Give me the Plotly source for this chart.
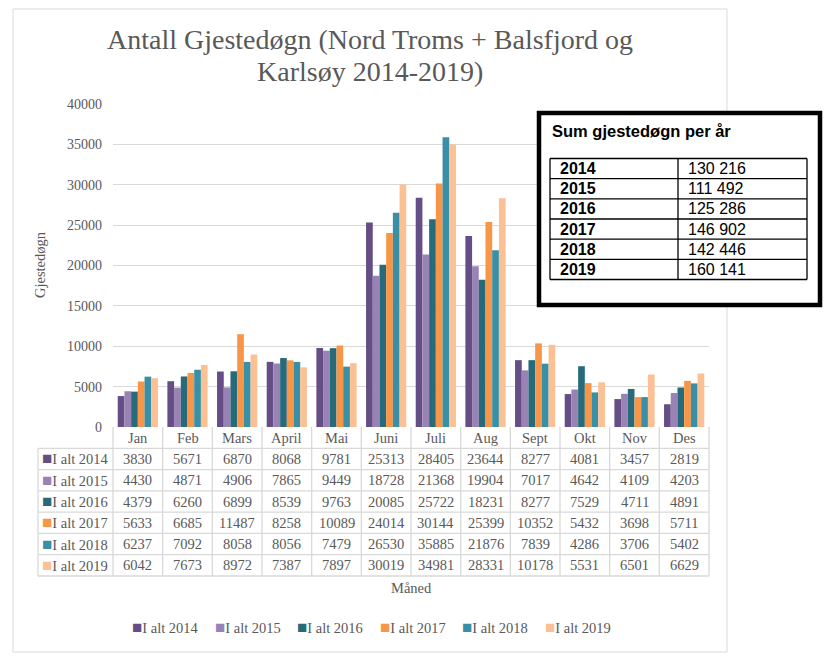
import plotly.graph_objects as go

months = ["Jan", "Feb", "Mars", "April", "Mai", "Juni", "Juli", "Aug", "Sept", "Okt", "Nov", "Des"]
series_names = ["I alt 2014", "I alt 2015", "I alt 2016", "I alt 2017", "I alt 2018", "I alt 2019"]
v2014 = [3830, 5671, 6870, 8068, 9781, 25313, 28405, 23644, 8277, 4081, 3457, 2819]
v2015 = [4430, 4871, 4906, 7865, 9449, 18728, 21368, 19904, 7017, 4642, 4109, 4203]
v2016 = [4379, 6260, 6899, 8539, 9763, 20085, 25722, 18231, 8277, 7529, 4711, 4891]
v2017 = [5633, 6685, 11487, 8258, 10089, 24014, 30144, 25399, 10352, 5432, 3698, 5711]
v2018 = [6237, 7092, 8058, 8056, 7479, 26530, 35885, 21876, 7839, 4286, 3706, 5402]
v2019 = [6042, 7673, 8972, 7387, 7897, 30019, 34981, 28331, 10178, 5531, 6501, 6629]
series_values = [v2014, v2015, v2016, v2017, v2018, v2019]
colors = ["#644E85", "#9983B5", "#276B7A", "#F79646", "#388FA6", "#FBC093"]

sum_years = ["2014", "2015", "2016", "2017", "2018", "2019"]
sum_values = ["130 216", "111 492", "125 286", "146 902", "142 446", "160 141"]
y_ticks = [0, 5000, 10000, 15000, 20000, 25000, 30000, 35000, 40000]

# page offset (browser body margin) and geometry in reference pixels
OFF = 8
L, R, T, B = 113, 709, 104, 427
SERIF = "Liberation Serif"
SANS = "Liberation Sans"
GRAY = "#595959"
GRID = "#D9D9D9"


def px(p):
    return (p - L) / (R - L)


def py(p):
    return (B - p) / (B - T)


def swatch(col, name):
    return '<span style="color:%s;font-size:17px">■</span>%s' % (col, name)


fig = go.Figure()
for name, vals, col in zip(series_names, series_values, colors):
    fig.add_trace(go.Bar(x=months, y=vals, name=name, showlegend=False,
                         marker=dict(color=col, line=dict(width=0))))

shapes = []
annotations = []

# outer chart frame
shapes.append(dict(type="rect", xref="paper", yref="paper", x0=px(13), x1=px(727), y0=py(9), y1=py(652),
                   line=dict(color=GRID, width=1), layer="below"))

# data table
row_h = (576 - 427) / 7
col_w = (R - L) / 12
for i in range(1, 8):
    yl = 427 + i * row_h
    shapes.append(dict(type="line", xref="paper", yref="paper", x0=px(38), x1=px(R), y0=py(yl), y1=py(yl),
                       line=dict(color=GRID, width=1.3)))
for j in range(13):
    xl = L + j * col_w
    shapes.append(dict(type="line", xref="paper", yref="paper", x0=px(xl), x1=px(xl), y0=py(427), y1=py(576),
                       line=dict(color=GRID, width=1.3)))
shapes.append(dict(type="line", xref="paper", yref="paper", x0=px(38), x1=px(38), y0=py(427 + row_h), y1=py(576),
                   line=dict(color=GRID, width=1.3)))

TFONT = dict(family=SERIF, size=14.5, color=GRAY)
for j, m in enumerate(months):
    annotations.append(dict(x=m, xref="x", y=py(427 + row_h / 2), yref="paper", text=m, showarrow=False,
                            font=TFONT, xanchor="center", yanchor="middle"))
for i, (name, vals, col) in enumerate(zip(series_names, series_values, colors)):
    yc = py(427 + (i + 1.5) * row_h)
    annotations.append(dict(x=px(40), xref="paper", y=yc, yref="paper",
                            text=swatch(col, name), showarrow=False,
                            font=TFONT, xanchor="left", yanchor="middle"))
    for m, v in zip(months, vals):
        annotations.append(dict(x=m, xref="x", y=yc, yref="paper", text=str(v), showarrow=False,
                                font=TFONT, xanchor="center", yanchor="middle"))

# legend (bottom)
for i, (name, col) in enumerate(zip(series_names, colors)):
    annotations.append(dict(x=px(130 + i * 82.6), xref="paper", y=py(627), yref="paper",
                            text=swatch(col, name), showarrow=False,
                            font=TFONT, xanchor="left", yanchor="middle"))

# axis titles
annotations.append(dict(x=px(411), xref="paper", y=py(588), yref="paper", text="Måned", showarrow=False,
                        font=dict(family=SERIF, size=14.5, color=GRAY), xanchor="center", yanchor="middle"))
annotations.append(dict(x=px(40), xref="paper", y=py(265), yref="paper", text="Gjestedøgn", showarrow=False,
                        textangle=-90, font=dict(family=SERIF, size=14.5, color=GRAY),
                        xanchor="center", yanchor="middle"))

# title (two lines)
title_lines = ["Antall Gjestedøgn (Nord Troms + Balsfjord og", "Karlsøy 2014-2019)"]
for k, line in enumerate(title_lines):
    annotations.append(dict(x=px(370), xref="paper", y=py(40 + 32 * k), yref="paper", text=line,
                            showarrow=False, font=dict(family=SERIF, size=28, color=GRAY),
                            xanchor="center", yanchor="middle"))

# summary box
shapes.append(dict(type="rect", xref="paper", yref="paper", x0=px(539), x1=px(820), y0=py(113), y1=py(305),
                   line=dict(color="black", width=4.5), fillcolor="white", layer="above"))
annotations.append(dict(x=px(550), xref="paper", y=py(131), yref="paper", text="<b>Sum gjestedøgn per år</b>",
                        showarrow=False, font=dict(family=SANS, size=16.5, color="black"),
                        xanchor="left", yanchor="middle"))
bt, bb = 158.5, 279.5
brow = (bb - bt) / 6
for i in range(7):
    yl = bt + i * brow
    shapes.append(dict(type="line", xref="paper", yref="paper", x0=px(550), x1=px(807), y0=py(yl), y1=py(yl),
                       line=dict(color="black", width=1.3), layer="above"))
for xl in (550, 678, 807):
    shapes.append(dict(type="line", xref="paper", yref="paper", x0=px(xl), x1=px(xl), y0=py(bt), y1=py(bb),
                       line=dict(color="black", width=1.3), layer="above"))
for i, (yr, sv) in enumerate(zip(sum_years, sum_values)):
    yc = py(bt + (i + 0.5) * brow)
    annotations.append(dict(x=px(558), xref="paper", y=yc, yref="paper", text="<b>%s</b>" % yr, showarrow=False,
                            font=dict(family=SANS, size=16, color="black"), xanchor="left", yanchor="middle"))
    annotations.append(dict(x=px(686), xref="paper", y=yc, yref="paper", text=sv, showarrow=False,
                            font=dict(family=SANS, size=16, color="black"), xanchor="left", yanchor="middle"))

Wf, Hf = 831 - OFF - 8, 664 - 2 * OFF
fig.update_layout(
    width=Wf, height=Hf,
    margin=dict(l=L - OFF, r=Wf - (R - OFF), t=T - OFF, b=Hf - (B - OFF)),
    paper_bgcolor="white", plot_bgcolor="white",
    barmode="group", bargap=0.19, bargroupgap=0,
    showlegend=False,
    xaxis=dict(showticklabels=False, showgrid=False, zeroline=False, showline=False, ticks=""),
    yaxis=dict(range=[0, 40000], tickvals=y_ticks, tickformat="d", showgrid=True, gridcolor=GRID, gridwidth=1.3,
               zeroline=False, showline=False, ticks="", ticklabelstandoff=10,
               tickfont=dict(family=SERIF, size=14, color=GRAY)),
    shapes=shapes, annotations=annotations,
    font=dict(family=SERIF, color=GRAY),
)

fig.write_html("out.html")
